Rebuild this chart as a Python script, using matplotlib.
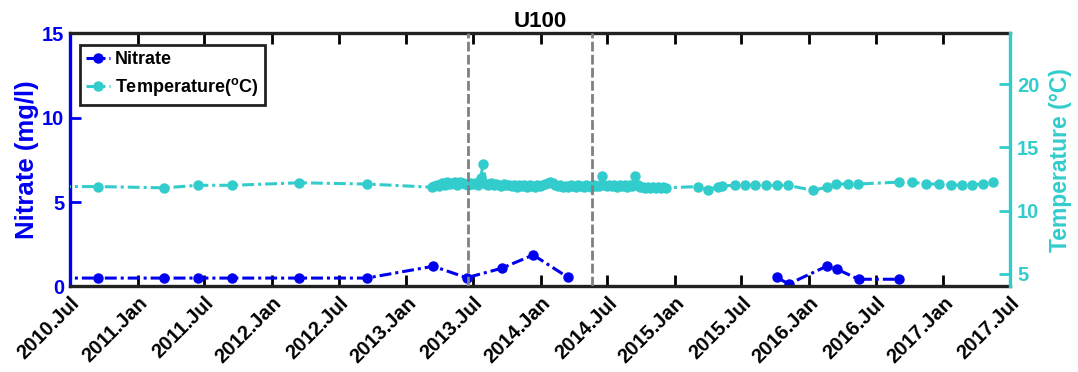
import numpy as np
import pandas as pd
import matplotlib
matplotlib.use("Agg")
import matplotlib.pyplot as plt
import matplotlib.dates as mdates

plt.rcParams["font.family"] = ["Liberation Sans", "DejaVu Sans"]
plt.rcParams["font.weight"] = "bold"
plt.rcParams["axes.titleweight"] = "bold"
plt.rcParams["axes.labelweight"] = "bold"
plt.rcParams["mathtext.fontset"] = "custom"
plt.rcParams["mathtext.rm"] = "Liberation Sans:bold"
plt.rcParams["mathtext.bf"] = "Liberation Sans:bold"
plt.rcParams["mathtext.default"] = "bf"

NITRATE_COLOR = "#0000F0"
TEMP_COLOR = "#33CCCC"
EVENT_COLOR = "#808080"

# --- well U100: nitrate samples (NaN breaks the line over the 2014-15 gap) ---
nitrate_dates = [
    "2010-06-01", "2010-09-15", "2011-03-15", "2011-06-15", "2011-09-15",
    "2012-03-15", "2012-09-15", "2013-03-15", "2013-06-14", "2013-09-17",
    "2013-12-12", "2014-03-16", "2014-10-01", "2015-10-05", "2015-11-07",
    "2016-02-18", "2016-03-18", "2016-05-15", "2016-09-03",
]
nitrate_vals = [
    0.50, 0.50, 0.50, 0.50, 0.50,
    0.50, 0.50, 1.20, 0.52, 1.08,
    1.87, 0.55, np.nan, 0.55, 0.15,
    1.20, 1.02, 0.43, 0.43,
]

# --- temperature: quarterly samples, then logger period, then monthly ---
temp_early_dates = [
    "2010-06-01", "2010-09-15", "2011-03-15", "2011-06-15", "2011-09-15",
    "2012-03-15", "2012-09-15",
]
temp_early_vals = [11.90, 11.90, 11.80, 12.00, 12.00, 12.20, 12.10]

# weekly logger readings, 2013-03-11 .. 2014-12-15
temp_logger_start = "2013-03-11"
temp_logger_vals = [
    11.85, 11.95, 12.05, 11.95, 12.15, 12.05, 12.25, 12.10, 12.20, 12.30,
    12.05, 12.25, 12.15, 12.10, 12.05, 12.15, 12.10, 12.20, 12.05, 12.60,
    13.70, 12.10, 12.05, 12.15, 12.00, 12.10, 12.05, 11.95, 12.10, 12.00,
    12.05, 11.95, 12.05, 11.90, 12.00, 11.95, 12.05, 11.90, 12.00, 11.95,
    11.90, 12.00, 11.95, 12.05, 12.10, 12.20, 12.25, 12.15, 12.00, 11.95,
    12.00, 11.90, 11.95, 11.90, 12.00, 11.95, 11.85, 12.00, 11.95, 11.90,
    12.00, 11.95, 11.90, 12.00, 11.95, 11.95, 12.75, 12.00, 11.95, 12.05,
    11.95, 12.00, 11.90, 12.05, 11.95, 12.00, 11.90, 12.00, 11.95, 12.70,
    12.00, 11.90, 11.85, 11.80, 11.90, 11.75, 11.85, 11.80, 11.90, 11.75,
    11.85, 11.80,
]

temp_late_dates = [
    "2015-03-05", "2015-04-02", "2015-04-28", "2015-05-09", "2015-06-13",
    "2015-07-10", "2015-08-06", "2015-09-05", "2015-10-05", "2015-11-04",
    "2016-01-12", "2016-02-18", "2016-03-16", "2016-04-17", "2016-05-14",
    "2016-09-01", "2016-10-07", "2016-11-15", "2016-12-20", "2017-01-21",
    "2017-02-20", "2017-03-19", "2017-04-18", "2017-05-16",
]
temp_late_vals = [
    11.90, 11.65, 11.90, 11.95, 12.00,
    12.00, 12.00, 12.00, 12.00, 12.00,
    11.60, 11.85, 12.10, 12.10, 12.10,
    12.25, 12.25, 12.10, 12.10, 12.05,
    12.00, 12.05, 12.10, 12.25,
]

# monitoring campaign boundaries
event_dates = ["2013-06-18", "2014-05-20"]

nitrate_t = pd.to_datetime(nitrate_dates)
logger_t = pd.date_range(temp_logger_start, periods=len(temp_logger_vals), freq="7D")
temp_t = pd.to_datetime(temp_early_dates).append(logger_t).append(pd.to_datetime(temp_late_dates))
temp_v = np.array(temp_early_vals + temp_logger_vals + temp_late_vals)

dashdot = (0, (3.9, 1.3, 1.0, 1.3))

fig = plt.figure(figsize=(10.78, 3.72), dpi=100)
ax = fig.add_axes([0.06494, 0.22984, 0.87199, 0.68011])
ax2 = ax.twinx()

h_no3, = ax.plot(nitrate_t, nitrate_vals, color=NITRATE_COLOR, lw=2.2,
                 linestyle=dashdot, marker="o", ms=6.5)
h_tmp, = ax2.plot(temp_t, temp_v, color=TEMP_COLOR, lw=2.2,
                  linestyle=dashdot, marker="o", ms=6.5)

for d in pd.to_datetime(event_dates):
    ax2.axvline(d, color=EVENT_COLOR, lw=2.0, linestyle=(0, (3.5, 1.2)), zorder=5)

ax.set_xlim(pd.Timestamp("2010-07-01"), pd.Timestamp("2017-07-01"))
ax.xaxis.set_major_locator(mdates.MonthLocator(bymonth=(1, 7)))
ax.xaxis.set_major_formatter(mdates.DateFormatter("%Y.%b"))
for lbl in ax.get_xticklabels():
    lbl.set_rotation(45)
    lbl.set_ha("right")
    lbl.set_rotation_mode("anchor")

ax.set_ylim(0, 15)
ax.set_yticks([0, 5, 10, 15])
ax2.set_ylim(4, 24)
ax2.set_yticks([5, 10, 15, 20])

ax.tick_params(axis="x", direction="in", length=8, width=2, top=True,
               labelsize=14.5, pad=5, colors="black")
ax.tick_params(axis="y", direction="in", length=8, width=2, right=False,
               labelsize=14.5, colors=NITRATE_COLOR, pad=4)
ax2.tick_params(axis="y", direction="in", length=8, width=2, left=False,
                labelsize=14.5, colors=TEMP_COLOR, pad=5)

for s in ("top", "bottom"):
    ax.spines[s].set_linewidth(2.4)
    ax.spines[s].set_color("#222222")
    ax2.spines[s].set_visible(False)
ax.spines["left"].set_color(NITRATE_COLOR)
ax.spines["left"].set_linewidth(2.4)
ax.spines["right"].set_visible(False)
ax2.spines["left"].set_visible(False)
ax2.spines["right"].set_color(TEMP_COLOR)
ax2.spines["right"].set_linewidth(2.4)

ax.set_ylabel("Nitrate (mg/l)", color=NITRATE_COLOR, fontsize=18.5, labelpad=2)
ax2.set_ylabel("Temperature (°C)", color=TEMP_COLOR, fontsize=16.5, labelpad=7)
ax.set_title("U100", fontsize=16, pad=5)

leg = ax2.legend([h_no3, h_tmp], ["Nitrate", r"Temperature($^{o}$C)"],
                 loc="upper left", bbox_to_anchor=(10 / 940, 1 - 11.5 / 253),
                 borderaxespad=0, fontsize=13, fancybox=False, framealpha=1,
                 edgecolor="#222222", handlelength=1.3, handletextpad=0.3,
                 labelspacing=0.45, borderpad=0.35)
leg.get_frame().set_linewidth(2)
leg.set_zorder(10)

fig.savefig("out.png", dpi=100)
